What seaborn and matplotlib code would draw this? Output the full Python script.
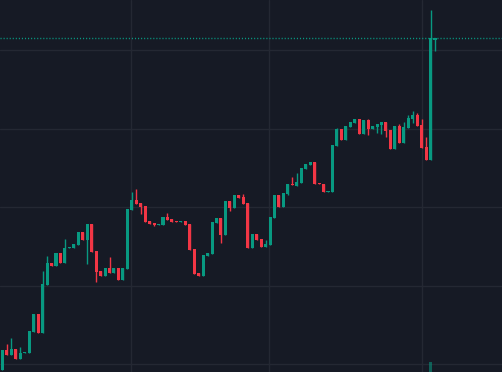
import numpy as np
import matplotlib
matplotlib.use("Agg")
import matplotlib.pyplot as plt
import seaborn as sns

# ----------------------------
# Candle data (arbitrary price units)
# ----------------------------
opens = [1.0, 3.0, 2.5, 3.1, 2.1, 2.7, 2.7, 4.8, 6.6, 4.7,
         9.5, 11.7, 11.4, 12.7, 11.7, 13.2, 13.2, 13.5, 14.8, 14.0,
         15.6, 12.9, 10.9, 10.4, 11.2, 10.7, 11.2, 10.0, 11.1, 17.0,
         18.0, 17.7, 17.4, 15.9, 15.7, 15.5, 15.5, 16.3, 16.1, 15.9,
         15.8, 15.9, 15.6, 13.1, 10.7, 10.4, 12.4, 12.6, 15.7, 16.2,
         14.5, 17.9, 17.2, 18.5, 18.3, 17.7, 13.2, 14.6, 14.1, 13.3,
         13.5, 16.2, 18.5, 17.3, 18.6, 19.6, 19.4, 19.7, 21.1, 21.5,
         21.8, 19.7, 19.6, 18.8, 18.8, 23.4, 25.1, 24.0, 25.3, 25.7,
         26.1, 24.6, 26.0, 25.1, 25.3, 25.5, 25.8, 25.0, 23.1, 25.4,
         23.7, 25.2, 26.1, 26.5, 25.5, 23.3, 22.0, 34.0]
closes = [3.0, 2.5, 3.1, 2.1, 2.7, 2.8, 4.9, 6.6, 4.7, 9.6,
          11.7, 11.4, 12.7, 11.7, 13.2, 13.3, 13.6, 14.8, 14.0, 15.6,
          12.8, 10.8, 10.4, 11.2, 10.7, 11.2, 10.0, 11.2, 17.1, 18.0,
          17.6, 17.3, 15.8, 15.6, 15.5, 15.6, 16.3, 16.0, 15.8, 15.8,
          15.9, 15.5, 13.0, 10.6, 10.4, 12.5, 12.7, 15.8, 16.2, 14.5,
          17.9, 17.2, 18.5, 18.2, 17.6, 13.2, 14.6, 14.0, 13.3, 13.6,
          16.3, 18.5, 17.3, 18.7, 19.6, 19.5, 19.8, 21.2, 21.6, 21.8,
          19.6, 19.6, 18.8, 18.9, 23.5, 25.1, 24.0, 25.4, 25.8, 26.1,
          24.6, 26.0, 25.1, 25.4, 25.6, 25.8, 24.9, 23.1, 25.4, 23.7,
          25.3, 26.2, 26.5, 25.4, 23.2, 22.0, 34.2, 34.2]
highs = [3.0, 3.6, 4.2, 3.1, 3.3, 2.8, 4.9, 6.6, 6.6, 10.9,
         12.4, 11.7, 12.7, 12.7, 14.1, 13.3, 13.6, 14.8, 14.8, 15.6,
         15.6, 12.9, 10.9, 11.2, 12.3, 11.2, 11.2, 11.2, 17.1, 18.8,
         19.1, 17.7, 17.4, 15.9, 15.7, 15.6, 16.3, 16.7, 16.1, 15.9,
         15.9, 15.9, 15.6, 13.1, 10.7, 12.5, 12.7, 15.8, 16.2, 16.2,
         17.9, 17.9, 18.5, 18.5, 18.6, 17.7, 14.6, 14.6, 14.1, 14.0,
         16.3, 18.5, 18.5, 18.7, 19.6, 20.3, 20.7, 21.2, 21.6, 21.8,
         21.8, 19.7, 19.6, 18.9, 23.5, 25.2, 25.1, 25.4, 25.8, 26.1,
         26.1, 26.0, 26.1, 25.4, 25.6, 25.8, 25.8, 25.0, 25.4, 25.6,
         25.8, 26.5, 26.9, 26.7, 26.1, 24.3, 37.0, 34.2]
lows = [1.0, 2.5, 2.5, 2.1, 2.1, 2.7, 2.7, 4.8, 4.7, 4.7,
        9.5, 11.4, 11.4, 11.7, 11.7, 13.2, 13.2, 13.5, 14.0, 11.6,
        12.8, 9.8, 10.4, 10.4, 10.7, 10.7, 10.0, 10.0, 11.1, 17.0,
        17.6, 16.6, 15.8, 15.6, 15.4, 15.5, 15.5, 16.0, 15.8, 15.8,
        15.8, 15.5, 13.0, 10.6, 10.4, 10.4, 12.4, 12.6, 15.7, 13.7,
        14.5, 16.9, 17.2, 18.2, 17.6, 13.2, 13.2, 14.0, 13.3, 13.3,
        13.5, 16.2, 17.3, 17.3, 18.5, 19.5, 19.4, 19.7, 21.1, 21.5,
        19.6, 19.6, 18.8, 18.8, 18.8, 23.4, 24.0, 24.0, 25.3, 25.7,
        24.6, 24.6, 24.5, 25.1, 24.7, 24.6, 24.3, 23.1, 23.1, 23.7,
        23.7, 25.2, 25.7, 25.4, 23.2, 22.0, 22.0, 32.9]
# volume: only the breakout candle shows a visible bar
volume = [0.0] * 96 + [1.0, 0.0]

# time grid positions (in candle index units)
grid_x = [28.9, 59.8, 94.0]
grid_y = [1.6, 9.4, 17.3, 25.1, 33.0]

# ----------------------------
# Style
# ----------------------------
bg = "#161a25"
grid_col = "#242833"
up = "#089981"
down = "#f23645"

sns.set_theme(style="dark", rc={"axes.facecolor": bg, "figure.facecolor": bg})

fig = plt.figure(figsize=(5.021, 3.721), dpi=100)
ax = fig.add_axes([0, 0, 1, 1])
ax.set_facecolor(bg)

idx = np.arange(len(opens))
o = np.array(opens)
c = np.array(closes)
colors = [up if cc >= oo else down for oo, cc in zip(o, c)]

# grid
for gx in grid_x:
    ax.axvline(gx, color=grid_col, lw=1.0, zorder=0)
for gy in grid_y:
    ax.axhline(gy, color=grid_col, lw=1.0, zorder=0)

# volume on its own scale at the bottom
axv = ax.twinx()
axv.set_ylim(0, max(volume) * 37.2)
axv.bar(idx, volume, width=0.68, color=up, alpha=0.55, linewidth=0)
axv.axis("off")

# wicks
ax.vlines(idx, lows, highs, colors=colors, linewidth=1.0, zorder=2)
# bodies (minimum 1px so dojis stay visible)
heights = np.maximum(np.abs(c - o), 0.1)
bottoms = np.minimum(o, c)
ax.bar(idx, heights, bottom=bottoms, width=0.68, color=colors, linewidth=0, zorder=3)

# last price line (dotted, ~1px dots every 3px)
ax.axhline(closes[-1], color=up, lw=1.0, linestyle=(0, (0.8, 1.4)), zorder=1)

ax.set_xlim(-0.56, 112.05)
ax.set_ylim(0.8, 38.0)
axv.set_xlim(-0.56, 112.05)
ax.set_xticks([])
ax.set_yticks([])
for s in ax.spines.values():
    s.set_visible(False)

plt.savefig("out.png", dpi=100, facecolor=bg)
